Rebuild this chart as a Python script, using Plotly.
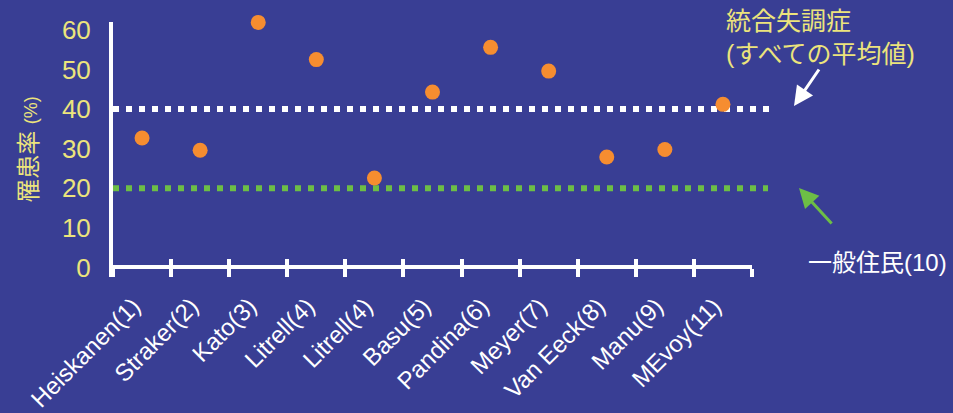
import plotly.graph_objects as go

# Prevalence (%) of the condition reported by each study
studies = ["Heiskanen(1)", "Straker(2)", "Kato(3)", "Litrell(4)", "Litrell(4)", "Basu(5)",
           "Pandina(6)", "Meyer(7)", "Van Eeck(8)", "Manu(9)", "MEvoy(11)"]
prevalence = [32.7, 29.6, 61.9, 52.5, 22.6, 44.3, 55.6, 49.6, 27.9, 29.8, 41.2]

# Reference levels
schizophrenia_mean = 40   # 統合失調症（すべての平均値）
general_population = 20   # 一般住民(10)

y_ticks = [0, 10, 20, 30, 40, 50, 60]
y_top = 62
y_bottom = -2.4

# Colours
BG = "#393E94"
ORANGE = "#F68D30"
YELLOW = "#ECE47C"
GREEN = "#6DBE45"
WHITE = "#FFFFFF"
FONT = "Liberation Sans, Noto Sans CJK JP, sans-serif"

# Page geometry
W, H = 953, 413
M = dict(l=113, r=201, t=22, b=136)
PW = W - M["l"] - M["r"]
PH = H - M["t"] - M["b"]


def px_x(px):
    return (px - M["l"]) / PW


def px_y(py):
    return (H - M["b"] - py) / PH


n = len(studies)
centers = list(range(n))
boundaries = [i - 0.5 for i in range(n + 1)]
# rotated labels end just under each category centre
label_pos = [c - 0.15 for c in centers]
x_range = [-0.5, n - 0.5]
# height of the zero line within the plot area
zero_pos = (0 - y_bottom) / (y_top - y_bottom)

fig = go.Figure()

fig.add_trace(go.Scatter(
    x=centers, y=prevalence, mode="markers",
    marker=dict(size=15, color=ORANGE, line=dict(width=0)),
    cliponaxis=False, showlegend=False, hoverinfo="skip",
))
# empty traces so the overlaid tick/label axes are drawn
for ax in ("x2", "x3"):
    fig.add_trace(go.Scatter(x=[], y=[], xaxis=ax, yaxis="y",
                             showlegend=False, hoverinfo="skip"))

# dashed reference levels
fig.add_shape(type="line", xref="paper", yref="y",
              x0=0, x1=px_x(774), y0=schizophrenia_mean, y1=schizophrenia_mean,
              line=dict(color=WHITE, width=6, dash="6px,7px"), layer="below")
fig.add_shape(type="line", xref="paper", yref="y",
              x0=0, x1=px_x(768), y0=general_population, y1=general_population,
              line=dict(color=GREEN, width=6, dash="6px,7px"), layer="below")

common_x = dict(range=x_range, showgrid=False, zeroline=False,
                anchor="free", position=zero_pos, fixedrange=True)

fig.update_layout(
    width=W, height=H, margin=M,
    template="none",
    paper_bgcolor=BG, plot_bgcolor=BG,
    font=dict(family=FONT, color=WHITE),
    xaxis=dict(**common_x, tickvals=boundaries, ticks="outside", ticklen=8,
               tickwidth=4, tickcolor=WHITE, showline=True, linecolor=WHITE,
               linewidth=4, showticklabels=False),
    xaxis2=dict(**common_x, overlaying="x", tickvals=boundaries, ticks="inside",
                ticklen=8, tickwidth=4, tickcolor=WHITE, showline=False,
                showticklabels=False),
    xaxis3=dict(**common_x, overlaying="x", tickvals=label_pos, ticktext=studies,
                ticks="", showline=False, tickangle=-45,
                tickfont=dict(family=FONT, size=24, color=WHITE),
                ticklabelstandoff=19),
    yaxis=dict(range=[y_bottom, y_top], tickvals=y_ticks, ticks="",
               showline=True, linecolor=WHITE, linewidth=4,
               showgrid=False, zeroline=False, automargin=False,
               tickfont=dict(family=FONT, size=26, color=YELLOW),
               ticklabelstandoff=13, fixedrange=True,
               title=dict(text="罹患率 <span style='font-size:18px'>(%)</span>",
                          font=dict(family=FONT, size=24, color=YELLOW),
                          standoff=18)),
    annotations=[
        dict(text="統合失調症<br>(すべての平均値)", xref="paper", yref="paper",
             x=px_x(724), y=px_y(5), xanchor="left", yanchor="top", align="left",
             showarrow=False, font=dict(family=FONT, size=25, color=YELLOW)),
        dict(text="", xref="paper", yref="paper", x=px_x(794), y=px_y(106),
             ax=26, ay=-38, showarrow=True, arrowcolor=WHITE, arrowwidth=3,
             arrowhead=2, arrowsize=1.3),
        dict(text="", xref="paper", yref="paper", x=px_x(799), y=px_y(188),
             ax=34, ay=37, showarrow=True, arrowcolor=GREEN, arrowwidth=3,
             arrowhead=2, arrowsize=1.3),
        dict(text="一般住民(10)", xref="paper", yref="paper",
             x=px_x(806), y=px_y(262), xanchor="left", yanchor="middle",
             showarrow=False, font=dict(family=FONT, size=24, color=WHITE)),
    ],
)

fig.write_html("out.html")
